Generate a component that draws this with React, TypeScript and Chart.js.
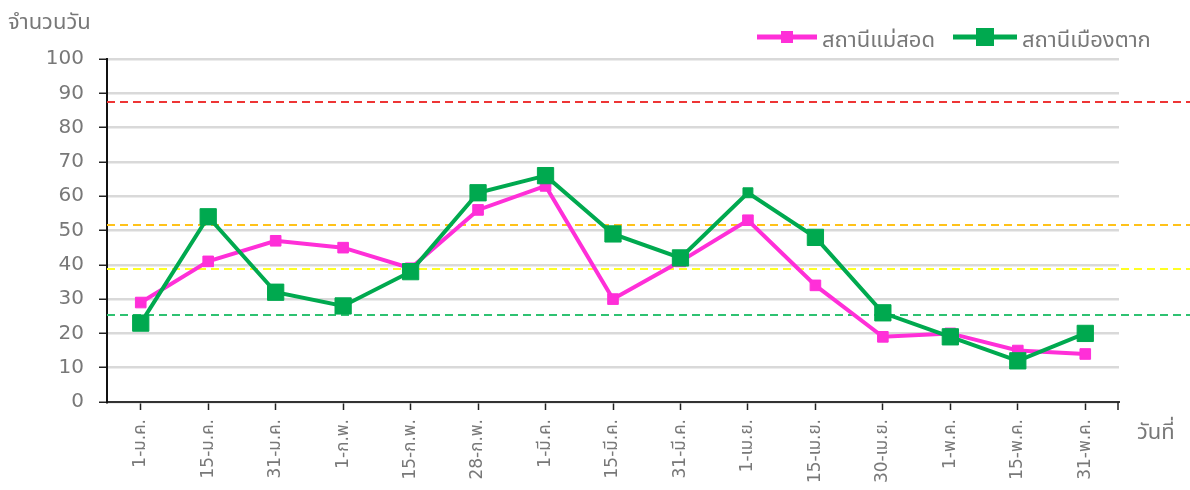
import React, { useEffect, useRef } from 'react';
import { Chart, registerables } from 'chart.js';

Chart.register(...registerables);

const categories = [
  '1-ม.ค.', '15-ม.ค.', '31-ม.ค.', '1-ก.พ.', '15-ก.พ.', '28-ก.พ.', '1-มี.ค.', '15-มี.ค.',
  '31-มี.ค.', '1-เม.ย.', '15-เม.ย.', '30-เม.ย.', '1-พ.ค.', '15-พ.ค.', '31-พ.ค.',
];
const maeSotValues = [29, 41, 47, 45, 39, 56, 63, 30, 41, 53, 34, 19, 20, 15, 14];
const muangTakValues = [23, 54, 32, 28, 38, 61, 66, 49, 42, 61, 48, 26, 19, 12, 20];
const seriesNames = ['สถานีแม่สอด', 'สถานีเมืองตาก'];
const thresholdValues = [87.4, 51.6, 38.9, 25.5];
const yAxisTitle = 'จำนวนวัน';
const xAxisTitle = 'วันที่';

const FONT = "'DejaVu Sans', 'Noto Sans Thai', 'Noto Sans', sans-serif";
const TEXT = '#787878';
const PINK = '#ff2fd8';
const GREEN = '#00a94f';
const THRESH_COLORS = ['#ee3535', '#ffc21a', '#ffff22', '#2fc272'];

const overlay = {
  id: 'overlay',
  beforeDatasetsDraw(chart: any) {
    const { ctx, chartArea, scales } = chart;
    ctx.save();
    ctx.lineWidth = 2;
    ctx.setLineDash([8, 5]);
    thresholdValues.forEach((v, i) => {
      const y = Math.round(scales.y.getPixelForValue(v));
      ctx.strokeStyle = THRESH_COLORS[i];
      ctx.beginPath();
      ctx.moveTo(chartArea.left, y);
      ctx.lineTo(chart.width, y);
      ctx.stroke();
    });
    ctx.restore();
  },
  afterDraw(chart: any) {
    const { ctx, chartArea } = chart;
    ctx.save();
    // end tick on x axis
    ctx.strokeStyle = '#222';
    ctx.lineWidth = 1.5;
    ctx.beginPath();
    ctx.moveTo(chartArea.right - 1, chartArea.bottom);
    ctx.lineTo(chartArea.right - 1, chartArea.bottom + 8);
    ctx.stroke();

    ctx.fillStyle = TEXT;
    ctx.font = `22px ${FONT}`;
    ctx.textBaseline = 'middle';
    ctx.textAlign = 'left';
    ctx.fillText(yAxisTitle, 8, 23);
    ctx.fillText(xAxisTitle, chartArea.right + 18, 433);

    // legend
    const items = [
      { x: 757, lineEnd: 817, color: PINK, size: 12, text: seriesNames[0] },
      { x: 953, lineEnd: 1017, color: GREEN, size: 18, text: seriesNames[1] },
    ];
    const ly = 37;
    items.forEach((it) => {
      ctx.strokeStyle = it.color;
      ctx.lineWidth = 5;
      ctx.setLineDash([]);
      ctx.beginPath();
      ctx.moveTo(it.x, ly);
      ctx.lineTo(it.lineEnd, ly);
      ctx.stroke();
      ctx.fillStyle = it.color;
      const cx = (it.x + it.lineEnd) / 2;
      ctx.fillRect(cx - it.size / 2, ly - it.size / 2, it.size, it.size);
      ctx.fillStyle = TEXT;
      ctx.fillText(it.text, it.lineEnd + 5, ly + 4);
    });
    ctx.restore();
  },
};

export default function App() {
  const ref = useRef<HTMLCanvasElement>(null);
  useEffect(() => {
    document.body.style.margin = '0';
    const chart = new Chart(ref.current as HTMLCanvasElement, {
      type: 'line',
      data: {
        labels: categories,
        datasets: [
          {
            label: seriesNames[0],
            data: maeSotValues,
            borderColor: PINK,
            backgroundColor: PINK,
            borderWidth: 4,
            pointStyle: 'rect',
            pointRadius: 7.5,
            pointBorderWidth: 1,
            pointHoverRadius: 7.5,
            order: 1,
          },
          {
            label: seriesNames[1],
            data: muangTakValues,
            borderColor: GREEN,
            backgroundColor: GREEN,
            borderWidth: 4,
            pointStyle: 'rect',
            pointRadius: (c: any) => (c.dataIndex === 9 ? 7 : 11.5),
            pointBorderWidth: 1,
            pointHoverRadius: 11.5,
            order: 0,
          },
        ],
      },
      options: {
        responsive: false,
        animation: false,
        layout: { padding: { top: 59, right: 71, left: 0, bottom: 0 } },
        plugins: { legend: { display: false }, tooltip: { enabled: false }, title: { display: false } },
        scales: {
          x: {
            offset: true,
            afterFit: (s: any) => { s.height = 88; },
            grid: { display: true, drawOnChartArea: false, offset: false, tickLength: 8, tickColor: '#222', tickWidth: 1.5 },
            border: { display: true, color: '#333', width: 2 },
            ticks: {
              minRotation: 90,
              maxRotation: 90,
              autoSkip: false,
              padding: 9,
              color: TEXT,
              font: { family: FONT, size: 17 },
            },
          },
          y: {
            min: 0,
            max: 100,
            afterFit: (s: any) => { s.width = 107; },
            grid: { color: '#d9d9d9', lineWidth: 2.5, tickLength: 8, tickColor: '#222', tickWidth: 1.5 },
            border: { display: true, color: '#111', width: 2 },
            ticks: {
              stepSize: 10,
              padding: 15,
              color: TEXT,
              font: { family: FONT, size: 20 },
            },
          },
        },
      },
      plugins: [overlay],
    });
    return () => chart.destroy();
  }, []);
  return (
    <div style={{ width: 1190, height: 490 }}>
      <canvas ref={ref} width={1190} height={490} />
    </div>
  );
}
